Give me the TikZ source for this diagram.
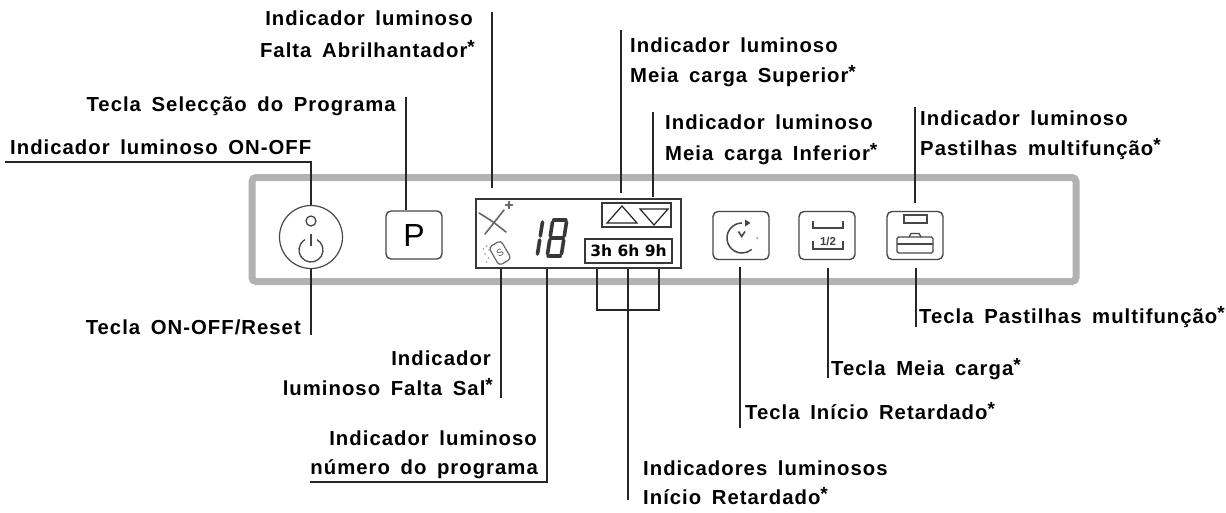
\documentclass[tikz,border=0pt]{standalone}
\usepackage{fontspec}
\setmainfont{Liberation Sans}
\newfontfamily\labfont{Liberation Sans}[LetterSpace=5,WordSpace=1.6]
\newfontfamily\dejab{DejaVu Sans}
\newcommand{\st}{\raisebox{3.5pt}{\fontsize{19}{19}\selectfont *}}
\begin{document}
\begin{tikzpicture}[x=1pt,y=-1pt,
  lab/.style={font=\labfont\bfseries\fontsize{20.3}{22}\selectfont, inner sep=0, text=black},
  lead/.style={draw=black!85, line width=1.1},
  btn/.style={draw=black!72, line width=1.4, rounded corners=5, minimum width=56, minimum height=48, inner sep=0},
  icon/.style={draw=black!72, line width=1.3},
  seg/.style={draw=black!78, line width=3.6, line cap=round},
  spark/.style={draw=black!60, line width=1.6, line cap=round},
  frame/.style={draw=black!78, line width=1.3, inner sep=0}]
\useasboundingbox (0,0) rectangle (1226,512);
\fill[white] (0,0) rectangle (1226,512);
% panel
\draw[draw=black!30, line width=7, rounded corners=4] (252,177.5) rectangle (1076,281.5);
% buttons
\node[circle, draw=black!72, line width=1.2, minimum size=63, inner sep=0] (pwr) at (311,237) {};
\node[btn, font=\fontsize{32}{32}\selectfont] (pbtn) at (414,235) {P};
\node[btn] (clock) at (741,235.5) {};
\node[btn] (half) at (827,235.5) {};
\node[btn] (past) at (915,235.5) {};
% display
\node[frame, minimum width=205, minimum height=69] (disp) at (578.5,233.5) {};
\node[frame, line width=1.2, minimum width=69, minimum height=24] (tri) at (636.5,215) {};
\node[frame, line width=1.2, minimum width=87, minimum height=24, font=\dejab\bfseries\fontsize{15.5}{16}\selectfont] (hrs) at (628.5,251) {3h 6h 9h};
\draw[icon, draw=black!85, line width=1.2] (607,223) -- (622,206) -- (637,223) -- cycle;
\draw[icon, draw=black!85, line width=1.2] (640,209) -- (668,209) -- (654,225) -- cycle;
% digits 1 and 8
\draw[seg] (542.5,222) -- (540.3,236);
\draw[seg] (539.7,240) -- (537.5,254);
\draw[seg] (553.8,220) -- (565.8,220);
\draw[seg] (566.5,222) -- (564.3,236);
\draw[seg] (563.7,240) -- (561.5,254);
\draw[seg] (548.2,256) -- (560.2,256);
\draw[seg] (549.7,240) -- (547.5,254);
\draw[seg] (552.5,222) -- (550.3,236);
\draw[seg] (551,238) -- (563,238);
% sparkle (rinse aid)
\draw[spark] (479,213) .. controls (492,221) .. (506,232);
\draw[spark] (504,210) .. controls (494,222) .. (485,234);
\draw[spark, line width=1.1] (505.5,205) -- (512.5,205) (509,201.5) -- (509,208.5);
% salt
\node[draw=black!60, line width=1.2, rounded corners=3.5, minimum width=14, minimum height=21, rotate=30, inner sep=0, font=\fontsize{10}{10}\selectfont, text=black!65] (salt) at (500,253) {S};
\foreach \p in {(486.5,246),(489,250),(485,254),(488.5,258),(486.5,262),(483.5,249)} \fill[black!40] \p circle (0.9);
% power icon
\draw[icon] (311,221) circle (5);
\draw[icon] (311,234) -- (311,246);
\draw[icon] (311,250) ++(-60:12) arc[start angle=-60, end angle=240, radius=12];
% clock icon
\draw[icon, line width=1.5] (742,238) ++(270:15) arc[start angle=270, end angle=50, radius=15];
\fill[black!72] (745,219.5) -- (750.5,223) -- (745,226.5) -- cycle;
\fill[black!45] (757,238) circle (1);
\draw[icon, line width=1.6] (738.5,231.5) -- (741.7,236.5) -- (745,231.5);
% half load icon
\draw[icon] (813,221) -- (813,228) -- (843,228) -- (843,221);
\draw[icon] (813,241) -- (813,249) -- (843,249) -- (843,241);
\node[inner sep=0, font=\bfseries\fontsize{11.5}{11.5}\selectfont, text=black!75] (halftxt) at (828,241.5) {1/2};
% tablet icon
\draw[icon] (904,215) rectangle (927,223);
\draw[icon, rounded corners=1.5] (897,237) rectangle (933,253);
\draw[icon] (897,244) -- (933,244);
\draw[icon] (909,237) -- (911,233.5) -- (919,233.5) -- (921,237);
% labels top
\node[lab, anchor=base east] (abr1) at (473,25) {Indicador luminoso};
\node[lab, anchor=base east] (abr2) at (475,57) {Falta Abrilhantador\st};
\node[lab, anchor=base east] (sel) at (396,111) {Tecla Selecção do Programa};
\node[lab, anchor=base west] (onoff) at (10,154) {Indicador luminoso ON-OFF};
\node[lab, anchor=base west] (sup1) at (630,52) {Indicador luminoso};
\node[lab, anchor=base west] (sup2) at (630,82) {Meia carga Superior\st};
\node[lab, anchor=base west] (inf1) at (665,129) {Indicador luminoso};
\node[lab, anchor=base west] (inf2) at (665,160) {Meia carga Inferior\st};
\node[lab, anchor=base west] (pas1) at (920,125) {Indicador luminoso};
\node[lab, anchor=base west] (pas2) at (920,155) {Pastilhas multifunção\st};
% labels bottom
\node[lab, anchor=base east] (reset) at (301,334) {Tecla ON-OFF/Reset};
\node[lab, anchor=base east] (sal1) at (491,365) {Indicador};
\node[lab, anchor=base east] (sal2) at (493,395) {luminoso Falta Sal\st};
\node[lab, anchor=base east] (num1) at (537,445) {Indicador luminoso};
\node[lab, anchor=base east] (num2) at (538,474) {número do programa};
\node[lab, anchor=base west] (ini1) at (643,475) {Indicadores luminosos};
\node[lab, anchor=base west] (ini2) at (643,504) {Início Retardado\st};
\node[lab, anchor=base west] (tir) at (745,419) {Tecla Início Retardado\st};
\node[lab, anchor=base west] (tmc) at (831,375) {Tecla Meia carga\st};
\node[lab, anchor=base west] (tpm) at (919,323) {Tecla Pastilhas multifunção\st};
% leader coordinates
\coordinate (onoffL) at (5,162);
\coordinate (resetB) at (311,335);
\coordinate (selT) at (406,97);
\coordinate (abrT) at (492,12);
\coordinate (abrB) at (492,188);
\coordinate (supT) at (621,30);
\coordinate (supB) at (621,193);
\coordinate (infT) at (653,112);
\coordinate (infB) at (653,197);
\coordinate (pasT) at (915,107);
\coordinate (pasB) at (915,203);
\coordinate (salB) at (501,398);
\coordinate (numB) at (547,482);
\coordinate (numL) at (310,482);
\coordinate (brL) at (597,310);
\coordinate (brR) at (659,310);
\coordinate (brM) at (628,500);
\coordinate (tirT) at (740,267);
\coordinate (tirB) at (740,428);
\coordinate (tmcT) at (828,268);
\coordinate (tmcB) at (828,378);
\coordinate (tpmT) at (916,268);
\coordinate (tpmB) at (916,327);
% leaders
\draw[lead] (onoffL) -| (pwr.north);
\draw[lead] (pwr.south) -- (resetB);
\draw[lead] (selT) -- (selT |- pbtn.north);
\draw[lead] (abrT) -- (abrB);
\draw[lead] (supT) -- (supB);
\draw[lead] (infT) -- (infB);
\draw[lead] (pasT) -- (pasB);
\draw[lead] (salB |- disp.south) -- (salB);
\draw[lead] (numB |- disp.south) -- (numB) -- (numL);
\draw[lead] (brL |- disp.south) -- (brL) -- (brR) -- (brR |- disp.south);
\draw[lead] (brM |- disp.south) -- (brM);
\draw[lead] (tirT) -- (tirB);
\draw[lead] (tmcT) -- (tmcB);
\draw[lead] (tpmT) -- (tpmB);
\end{tikzpicture}
\end{document}
